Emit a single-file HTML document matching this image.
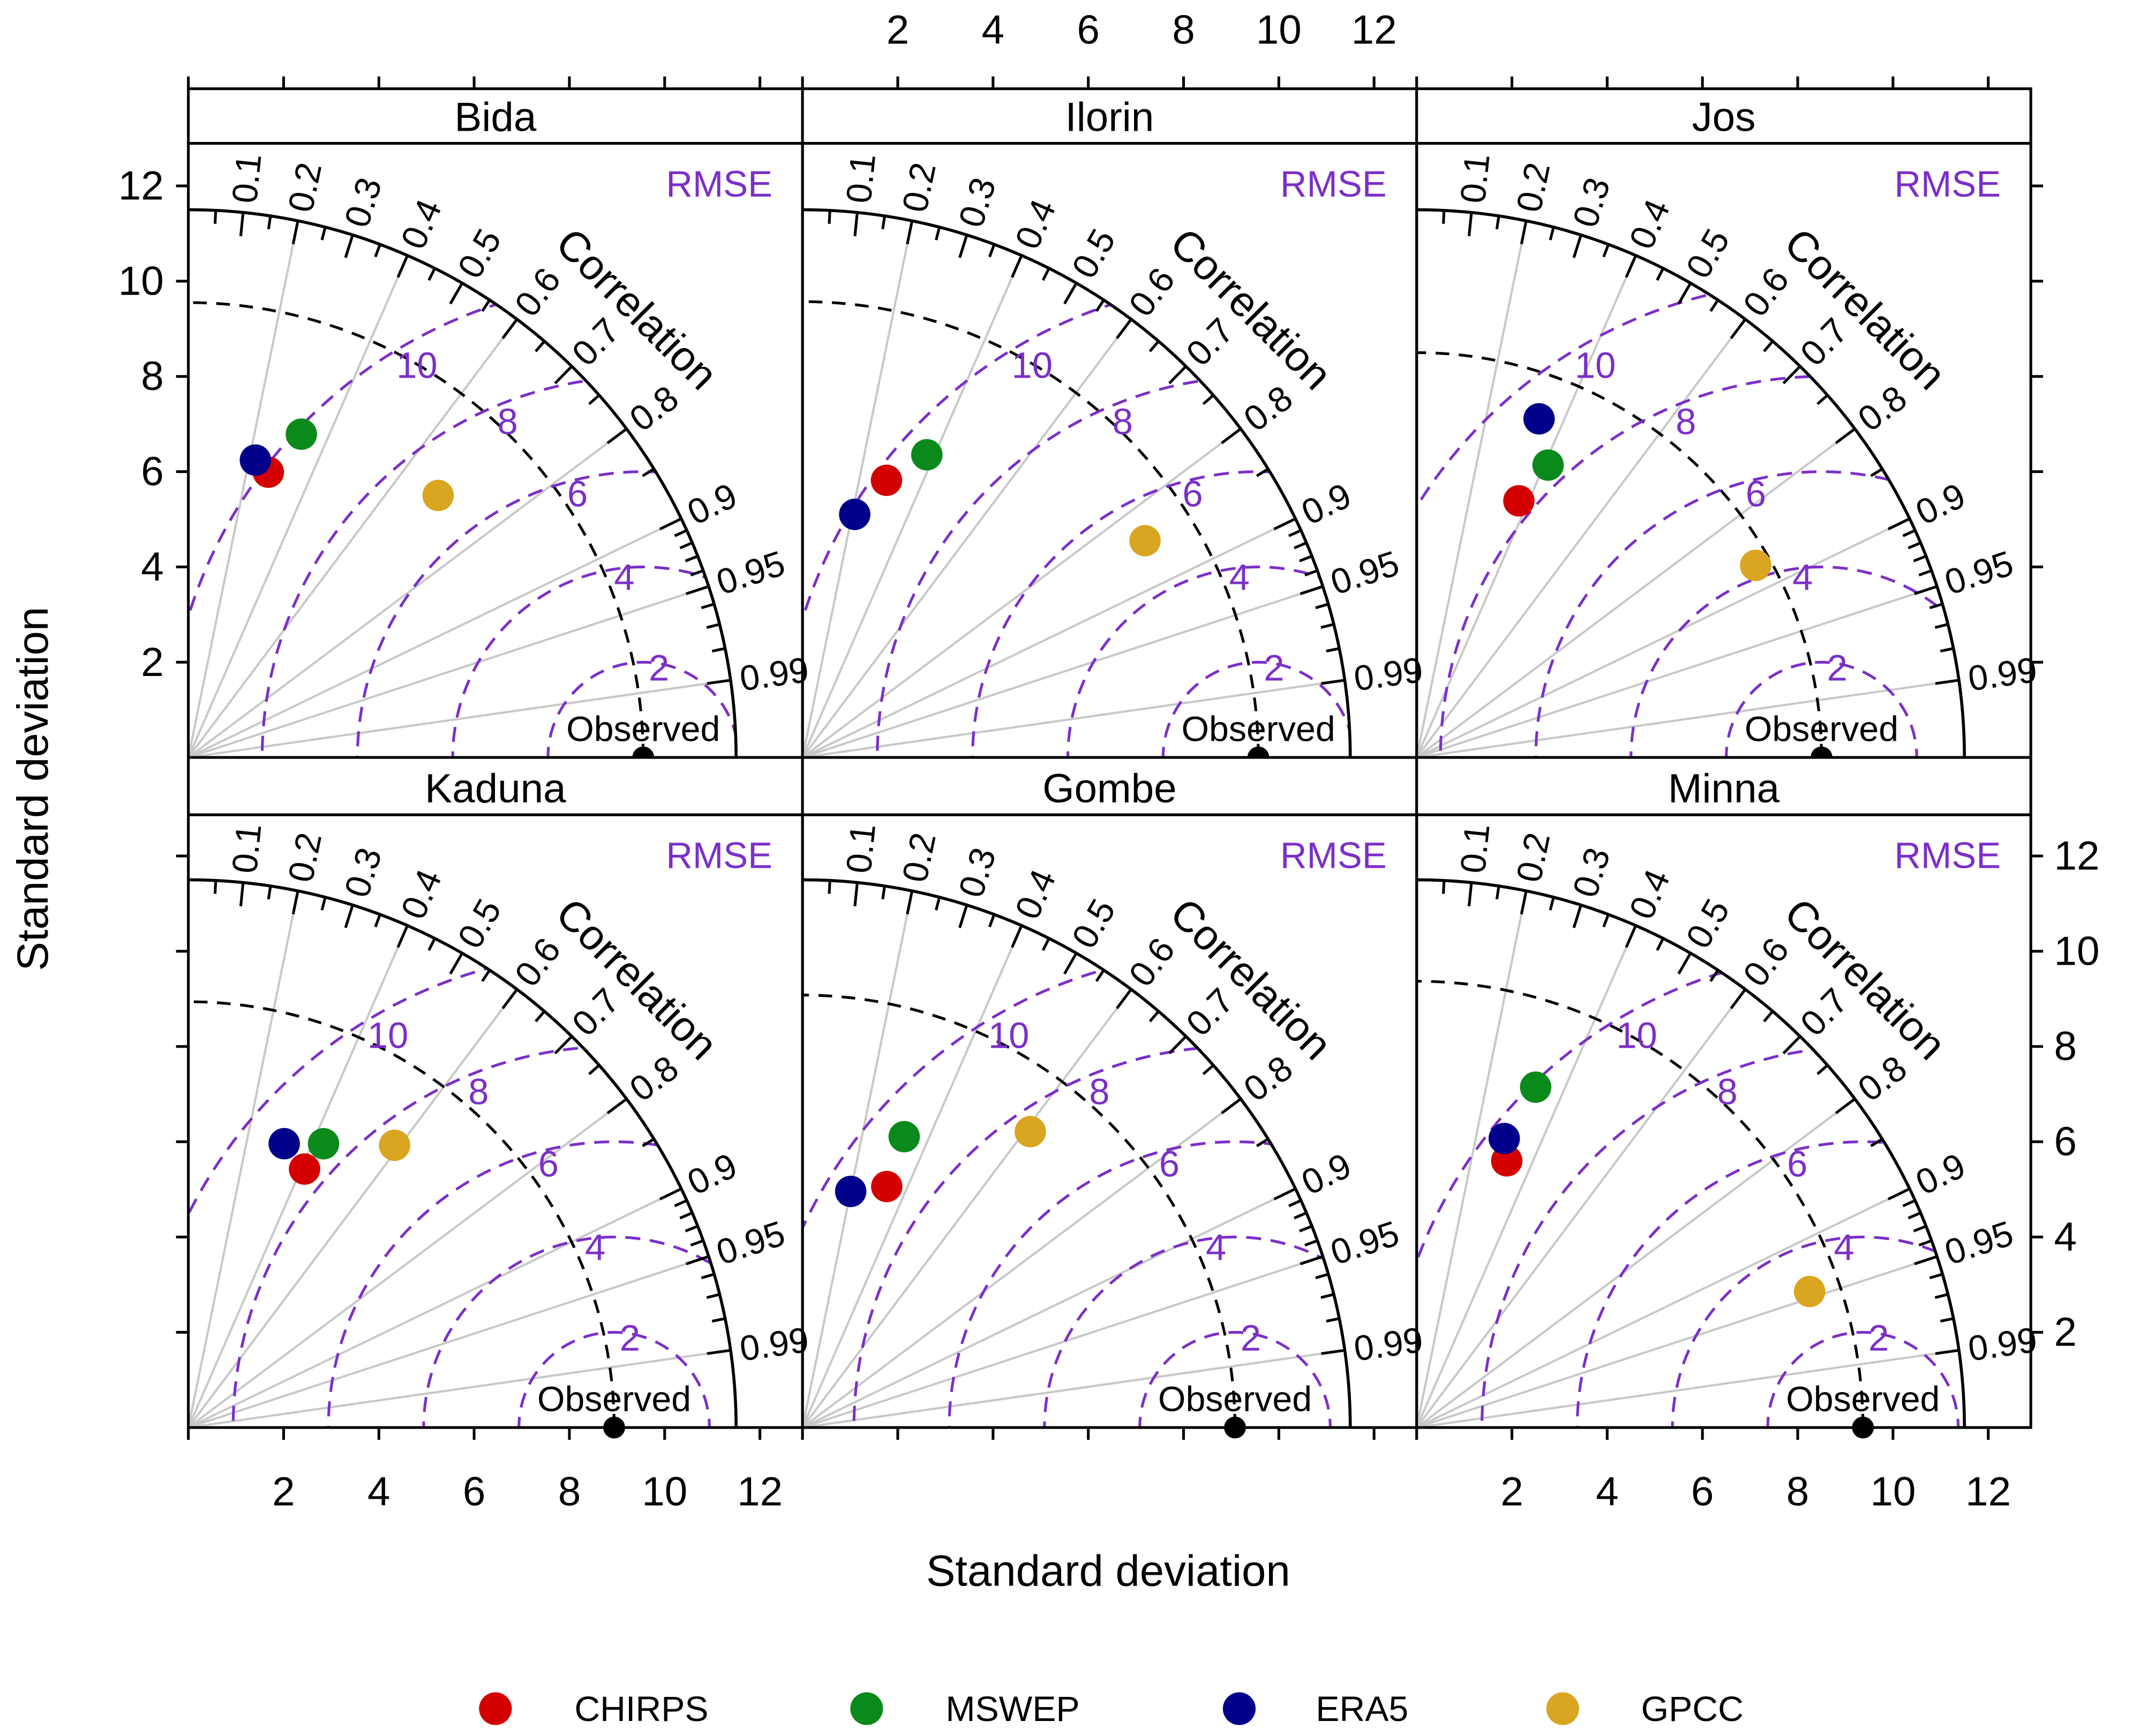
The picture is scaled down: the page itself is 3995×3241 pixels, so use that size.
<!DOCTYPE html>
<html><head><meta charset="utf-8"><style>
html,body{margin:0;padding:0;background:#fff;overflow:hidden;width:3995px;height:3241px;}
svg{display:block;font-family:"Liberation Sans",Arial,sans-serif;}
</style></head><body>
<svg id="chart" width="3995" height="3241" viewBox="0 0 1568 1272" xmlns="http://www.w3.org/2000/svg"></svg>
<script>
const stations = ["Bida","Ilorin","Jos","Kaduna","Gombe","Minna"];
const observedSD = [9.55, 9.57, 8.5, 8.94, 9.08, 9.37];
const products = ["CHIRPS","MSWEP","ERA5","GPCC"];
const productColors = ["#d40000","#0a8a1a","#00008b","#daa520"];
const chirpsSD = [6.22, 6.08, 5.80, 5.95, 5.36, 5.91];
const chirpsCorr = [0.27, 0.29, 0.37, 0.41, 0.33, 0.32];
const mswepSD = [7.19, 6.87, 6.73, 6.60, 6.47, 7.57];
const mswepCorr = [0.33, 0.38, 0.41, 0.43, 0.33, 0.33];
const era5SD = [6.40, 5.22, 7.56, 6.29, 5.06, 6.34];
const era5Corr = [0.22, 0.21, 0.34, 0.32, 0.20, 0.29];
const gpccSD = [7.60, 8.51, 8.18, 7.34, 7.84, 8.73];
const gpccCorr = [0.69, 0.845, 0.87, 0.59, 0.61, 0.945];
const corrTicks = [0.1,0.2,0.3,0.4,0.5,0.6,0.7,0.8,0.9,0.95,0.99];
const corrGrid = [0.2,0.4,0.6,0.8,0.9,0.95,0.99];
const corrMinor = [0.05,0.15,0.25,0.35,0.45,0.55,0.65,0.75,0.85,0.91,0.92,0.93,0.94,0.96,0.97,0.98];
const rmseLevels = [2,4,6,8,10];
const rmseLabelAngle = [80,96,104,112,120];
const sdTicks = [2,4,6,8,10,12];
const maxSD = 11.5;

const NS="http://www.w3.org/2000/svg";
const svg=document.getElementById('chart');
const K=34.9, PW=450, PH=450;
function el(tag,attrs,parent){const e=document.createElementNS(NS,tag);for(const k in attrs)e.setAttribute(k,attrs[k]);(parent||svg).appendChild(e);return e;}
function txt(s,attrs,parent){const e=el('text',attrs,parent);e.textContent=s;return e;}
const allSD=[chirpsSD,mswepSD,era5SD,gpccSD];
const allCorr=[chirpsCorr,mswepCorr,era5Corr,gpccCorr];
const defs=el('defs',{});

stations.forEach((name,i)=>{
  const col=i%3,row=Math.floor(i/3);
  const left=138+col*PW, top=row===0?105:597, ox=left, oy=top+PH-(row===0?0:1);
  const X=(sd,r)=>ox+sd*r*K, Y=(sd,r)=>oy-sd*Math.sqrt(1-r*r)*K;
  const g=el('g',{});
  
  
  const strip=el('rect',{x:left,y:top-(row===0?40:42),width:PW,height:(row===0?40:42),fill:'#fff',stroke:'#000','stroke-width':2},g);
  
  
  const st=txt(name,{x:left+PW/2,y:top-9,'text-anchor':'middle','font-size':30},g);
  
  
  const cp=el('clipPath',{id:'clip'+i},defs);
  el('path',{d:`M${ox},${oy} L${ox+maxSD*K},${oy} A${maxSD*K},${maxSD*K} 0 0 0 ${ox},${oy-maxSD*K} Z`},cp);
  corrGrid.forEach(r=>{
    const ln=el('line',{x1:ox,y1:oy,x2:X(maxSD-0.5,r),y2:Y(maxSD-0.5,r),stroke:'#c8c8c8','stroke-width':1.6},g);
    
    
  });
  const o=observedSD[i];
  const oa=el('path',{d:`M${ox+o*K},${oy} A${o*K},${o*K} 0 0 0 ${ox},${oy-o*K}`,fill:'none',stroke:'#000','stroke-width':2,'stroke-dasharray':'10,7'},g);
  
  
  const cg=el('g',{'clip-path':`url(#clip${i})`},g);
  rmseLevels.forEach((lv,j)=>{
    const c=el('circle',{cx:ox+o*K,cy:oy,r:lv*K,fill:'none',stroke:'#7b2fc9','stroke-width':2,'stroke-dasharray':'11,7'},cg);
    
    
    const a=rmseLabelAngle[j]*Math.PI/180, rr=lv*0.95;
    const lx=ox+(o+rr*Math.cos(a))*K, ly=oy-rr*Math.sin(a)*K;
    const t=txt(String(lv),{x:lx,y:ly+9,'text-anchor':'middle','font-size':27,fill:'#7b2fc9'},g);
    
    
  });
  const arc=el('path',{d:`M${ox+maxSD*K},${oy} A${maxSD*K},${maxSD*K} 0 0 0 ${ox},${oy-maxSD*K}`,fill:'none',stroke:'#000','stroke-width':2.2},g);
  
  
  corrTicks.forEach(r=>{
    el('line',{x1:X(maxSD,r),y1:Y(maxSD,r),x2:X(maxSD-0.5,r),y2:Y(maxSD-0.5,r),stroke:'#000','stroke-width':2},g);
    const th=Math.acos(r), R=maxSD+0.2;
    const t=txt(String(r),{x:X(R,r),y:Y(R,r),'font-size':26,transform:`rotate(${-th*180/Math.PI} ${X(R,r)} ${Y(R,r)})`,dy:9},g);
    
    
  });
  corrMinor.forEach(r=>{
    el('line',{x1:X(maxSD,r),y1:Y(maxSD,r),x2:X(maxSD-0.28,r),y2:Y(maxSD-0.28,r),stroke:'#000','stroke-width':2},g);
  });
  const cr=Math.cos(Math.PI/4), cx=ox+13.3*cr*K, cy=oy-13.3*cr*K;
  const ct=txt('Correlation',{x:cx,y:cy,'text-anchor':'middle','font-size':31,transform:`rotate(45 ${cx} ${cy})`,dy:10},g);
  
  
  const rm=txt('RMSE',{x:left+389,y:top+39,'text-anchor':'middle','font-size':27,fill:'#7b2fc9'},g);
  
  
  const ot=txt('Observed',{x:ox+o*K,y:oy-12,'text-anchor':'middle','font-size':26},g);
  
  
  const od=el('circle',{cx:ox+o*K,cy:oy,r:8,fill:'#000'},g);
  
  
  products.forEach((p,k)=>{
    const sd=allSD[k][i], r=allCorr[k][i];
    const pt=el('circle',{cx:X(sd,r),cy:Y(sd,r),r:11.5,fill:productColors[k]},g);
    
    
  });
  const fr=el('rect',{x:left,y:top,width:PW,height:PH-(row===0?0:1),fill:'none',stroke:'#000','stroke-width':2},g);
  
  
  sdTicks.forEach(v=>{
    if(col===0){ el('line',{x1:138,y1:oy-v*K,x2:129,y2:oy-v*K,stroke:'#000','stroke-width':2});
      if(row===0){const t=txt(String(v),{x:120,y:oy-v*K+10,'text-anchor':'end','font-size':30});}}
    if(col===2){ el('line',{x1:1488,y1:oy-v*K,x2:1497,y2:oy-v*K,stroke:'#000','stroke-width':2});
      if(row===1){const t=txt(String(v),{x:1505,y:oy-v*K+10,'font-size':30});}}
    if(row===0){ el('line',{x1:ox+v*K,y1:65,x2:ox+v*K,y2:56,stroke:'#000','stroke-width':2});
      if(col===1){const t=txt(String(v),{x:ox+v*K,y:32,'text-anchor':'middle','font-size':30});}}
    if(row===1){ el('line',{x1:ox+v*K,y1:1046,x2:ox+v*K,y2:1055,stroke:'#000','stroke-width':2});
      if(col!==1){const t=txt(String(v),{x:ox+v*K,y:1103,'text-anchor':'middle','font-size':30});}}
  });
  if(row===0) el('line',{x1:left,y1:65,x2:left,y2:56,stroke:'#000','stroke-width':2});
  if(row===1) el('line',{x1:left,y1:1046,x2:left,y2:1055,stroke:'#000','stroke-width':2});
});
const xt=txt('Standard deviation',{x:812,y:1162,'text-anchor':'middle','font-size':32});


const yt=txt('Standard deviation',{x:35,y:578,'text-anchor':'middle','font-size':32,transform:'rotate(-90 35 578)'});


const legX=[363,635,908,1145], legTX=[470,742,998,1240];
products.forEach((p,k)=>{
  const c=el('circle',{cx:legX[k],cy:1252,r:12,fill:productColors[k]});
  
  
  const t=txt(p,{x:legTX[k],y:1261,'text-anchor':'middle','font-size':26});
  
  
});
</script>
</body></html>
